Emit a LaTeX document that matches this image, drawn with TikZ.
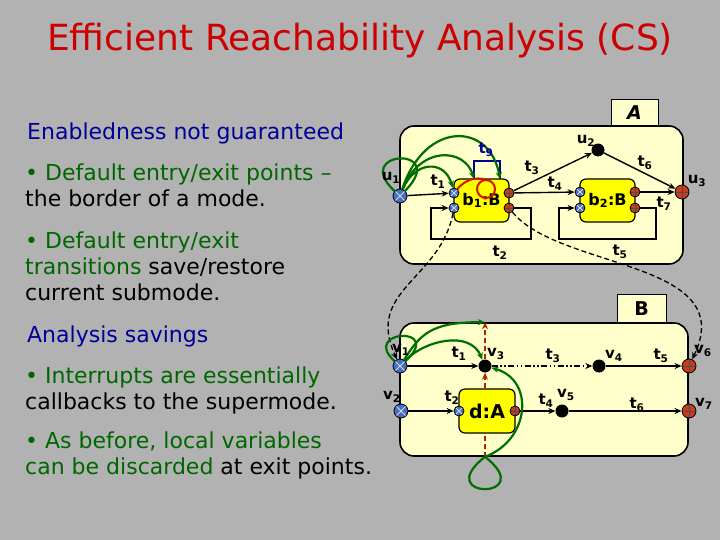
\documentclass[tikz,border=0pt]{standalone}
\usepackage{fontspec}
\setmainfont{DejaVu Sans}
\usetikzlibrary{arrows.meta,positioning,calc}
\definecolor{slidegray}{RGB}{178,178,178}
\definecolor{titlered}{RGB}{204,0,0}
\definecolor{headblue}{RGB}{0,0,153}
\definecolor{textgreen}{RGB}{0,102,0}
\definecolor{modefill}{RGB}{255,255,204}
\definecolor{subfill}{RGB}{255,255,0}
\definecolor{arcgreen}{RGB}{0,110,0}
\definecolor{inblue}{RGB}{70,110,200}
\definecolor{outred}{RGB}{200,60,30}
\definecolor{histred}{RGB}{210,20,0}
\definecolor{dashred}{RGB}{170,40,0}
\newcommand{\ts}[2]{#1\textsubscript{#2}}

\begin{document}
\begin{tikzpicture}[x=1pt, y=-1pt,
    >={Stealth[length=7pt,width=6pt]},
    txt/.style={anchor=base west, inner sep=0pt, font=\fontsize{22}{26}\selectfont},
    mode/.style={draw, line width=1.6pt, rounded corners=14pt, fill=modefill, inner sep=0pt},
    tabbox/.style={draw, line width=1pt, fill=modefill, inner sep=0pt, font=\fontsize{19}{19}\selectfont\bfseries},
    sub/.style={draw, line width=1.2pt, rounded corners=6pt, fill=subfill, inner sep=0pt, font=\fontsize{16}{16}\selectfont\bfseries},
    lbl/.style={inner sep=0pt, font=\fontsize{15}{15}\selectfont\bfseries},
    inport/.style={circle, draw, line width=0.8pt, fill=inblue, inner sep=0pt, minimum size=#1,
      path picture={\draw[gray!30, line width=0.8pt]
        (path picture bounding box.north west) -- (path picture bounding box.south east)
        (path picture bounding box.north east) -- (path picture bounding box.south west);}},
    inport/.default=10pt,
    outport/.style={circle, draw, line width=0.8pt, fill=outred, inner sep=0pt, minimum size=#1,
      path picture={\draw[black!70, line width=0.8pt]
        (path picture bounding box.north) -- (path picture bounding box.south)
        (path picture bounding box.east) -- (path picture bounding box.west);}},
    outport/.default=10pt,
    blackdot/.style={circle, fill=black, inner sep=0pt, minimum size=13pt},
    tr/.style={->, line width=1.4pt},
    garc/.style={->, arcgreen, line width=2.2pt},
    dline/.style={->, line width=1.3pt, dash pattern=on 5pt off 3pt},
    rdash/.style={dashred, line width=1.3pt, dash pattern=on 5pt off 3pt}
  ]
  \fill[slidegray] (0,0) rectangle (720,540);
  \useasboundingbox (0,0) rectangle (720,540);

  % title and text
  \node[font=\fontsize{36}{36}\selectfont, text=titlered, anchor=base] (title) at (360,51) {Efficient Reachability Analysis (CS)};
  \node[txt, text=headblue] (h1) at (27,140) {Enabledness not guaranteed};
  \node[txt, text=textgreen] (p1a) at (25,181) {• Default entry/exit points –};
  \node[txt] (p1b) at (25,207) {the border of a mode.};
  \node[txt, text=textgreen] (p2a) at (25,248) {• Default entry/exit};
  \node[txt] (p2b) at (25,274) {\textcolor{textgreen}{transitions} save/restore};
  \node[txt] (p2c) at (25,300) {current submode.};
  \node[txt, text=headblue] (h2) at (27,342) {Analysis savings};
  \node[txt, text=textgreen] (p3a) at (25,383) {• Interrupts are essentially};
  \node[txt] (p3b) at (25,409) {callbacks to the supermode.};
  \node[txt, text=textgreen] (p4a) at (25,448) {• As before, local variables};
  \node[txt] (p4b) at (25,474) {\textcolor{textgreen}{can be discarded} at exit points.};

  % modes
  \node[tabbox, minimum width=47pt, minimum height=26pt] (tabA) at (634.5,113) {\itshape A};
  \node[mode, minimum width=283pt, minimum height=138pt] (A) at (541.5,195) {};
  \node[tabbox, minimum width=49pt, minimum height=29pt] (tabB) at (641.5,308.5) {B};
  \node[mode, minimum width=288pt, minimum height=133pt] (B) at (544,389.5) {};

  % submodes
  \node[sub, minimum width=55pt, minimum height=43pt] (b1) at (481.5,200.5) {\ts{b}{1}:B};
  \node[sub, minimum width=55pt, minimum height=43pt] (b2) at (607.5,200.5) {\ts{b}{2}:B};
  \node[sub, minimum width=56pt, minimum height=44pt, font=\fontsize{19}{19}\selectfont\bfseries] (d) at (487,411) {d:A};

  % points of A
  \node[inport=14pt] (u1) at (400,196) {};
  \node[blackdot] (u2) at (598,150) {};
  \node[outport=14pt] (u3) at (682,192) {};
  \node[inport] (b1i1) at (454,193) {};
  \node[inport] (b1i2) at (454,208) {};
  \node[outport] (b1o1) at (509,193) {};
  \node[outport] (b1o2) at (509,208) {};
  \node[inport] (b2i1) at (580,192) {};
  \node[inport] (b2i2) at (580,208) {};
  \node[outport] (b2o1) at (635,192) {};
  \node[outport] (b2o2) at (635,208) {};
  \coordinate (b1nw) at (474,179);
  \coordinate (b1ne) at (500,179);

  % points of B
  \node[inport=14pt] (v1) at (400,366) {};
  \node[inport=14pt] (v2) at (401,411) {};
  \node[blackdot] (v3) at (485,366) {};
  \node[blackdot] (v4) at (599,366) {};
  \node[blackdot] (v5) at (562,411) {};
  \node[outport=14pt] (v6) at (689,366) {};
  \node[outport=14pt] (v7) at (689,411) {};
  \node[inport] (din) at (459,411) {};
  \node[outport] (dout) at (515,411) {};
  \coordinate (dtop) at (B.north -| v3);
  \coordinate (dbot) at (B.south -| v3);

  % transitions of A
  \draw[tr] (u1) -- (b1i1);
  \draw[tr] (b1o2) -- (531,208) -- (531,239) -- (431,239) -- (431,208) -- (b1i2);
  \draw[tr] (b1o1) -- (u2);
  \draw[tr] (b1o1) -- (b2i1);
  \draw[tr] (b2o2) -- (656,208) -- (656,239) -- (559,239) -- (559,208) -- (b2i2);
  \draw[tr] (u2) -- (u3);
  \draw[tr] (b2o1) -- (u3);
  \draw[headblue, line width=1.8pt] (b1nw) -- (474,161) -- (500,161) -- (b1ne);
  \draw[histred, line width=2pt] (486,189) circle[radius=9pt];
  \draw[histred, line width=2pt] (b1i1) .. controls (465,180) and (476,176) .. (486,180);

  % transitions of B
  \draw[tr] (v1) -- (v3);
  \draw[tr, dash pattern=on 6pt off 2.5pt on 1.5pt off 2.5pt on 1.5pt off 2.5pt] (v3) -- (v4);
  \draw[tr] (v4) -- (v6);
  \draw[tr] (v2) -- (din);
  \draw[tr] (dout) -- (v5);
  \draw[tr] (v5) -- (v7);
  \draw[rdash] (dbot) -- (d.south -| v3);
  \draw[rdash, ->] (d.north -| v3) -- (v3);
  \draw[rdash, ->] (v3) -- (dtop);

  % refinement links
  \draw[dline] (b1i2) .. controls (440,280) and (365,290) .. (v1);
  \draw[dline] (b1o2) .. controls (560,270) and (740,260) .. (v6);

  % default entries and interrupts
  \draw[garc, -] (u1) .. controls (350,150) and (450,145) .. (u1);
  \draw[garc] (u1) .. controls (415,160) and (445,160) .. (b1i1);
  \draw[garc] (u1) .. controls (420,145) and (465,148) .. (b1nw);
  \draw[garc] (u1) .. controls (425,120) and (490,122) .. (b1ne);
  \draw[garc, -] (v1) .. controls (360,330) and (445,325) .. (v1);
  \draw[garc] (v1) .. controls (420,335) and (430,322) .. (dtop);
  \draw[garc] (v1) .. controls (425,340) and (470,330) .. (v3);
  \draw[garc] (dbot) .. controls (530,440) and (535,380) .. (v3);
  \draw[garc, -] (dbot) .. controls (430,500) and (540,500) .. (dbot);

  % labels
  \node[lbl] (lu1) at (391,178) {\ts{u}{1}};
  \node[lbl] (lu2) at (586,141) {\ts{u}{2}};
  \node[lbl] (lu3) at (697,181) {\ts{u}{3}};
  \node[lbl] (lt1) at (438,182) {\ts{t}{1}};
  \node[lbl] (lt2) at (500,253) {\ts{t}{2}};
  \node[lbl] (lt3) at (532,168) {\ts{t}{3}};
  \node[lbl] (lt4) at (555,184) {\ts{t}{4}};
  \node[lbl] (lt5) at (620,252) {\ts{t}{5}};
  \node[lbl] (lt6) at (645,163) {\ts{t}{6}};
  \node[lbl] (lt7) at (664,204) {\ts{t}{7}};
  \node[lbl, text=headblue] (lt9) at (486,150) {\ts{t}{9}};
  \node[lbl] (lv1) at (401,350) {\ts{v}{1}};
  \node[lbl] (lv2) at (392,397) {\ts{v}{2}};
  \node[lbl] (lv3) at (496,354) {\ts{v}{3}};
  \node[lbl] (lv4) at (614,356) {\ts{v}{4}};
  \node[lbl] (lv5) at (566,395) {\ts{v}{5}};
  \node[lbl] (lv6) at (703,351) {\ts{v}{6}};
  \node[lbl] (lv7) at (704,404) {\ts{v}{7}};
  \node[lbl] (ls1) at (459,354) {\ts{t}{1}};
  \node[lbl] (ls2) at (452,398) {\ts{t}{2}};
  \node[lbl] (ls3) at (553,356) {\ts{t}{3}};
  \node[lbl] (ls4) at (546,401) {\ts{t}{4}};
  \node[lbl] (ls5) at (661,356) {\ts{t}{5}};
  \node[lbl] (ls6) at (637,405) {\ts{t}{6}};
\end{tikzpicture}
\end{document}
